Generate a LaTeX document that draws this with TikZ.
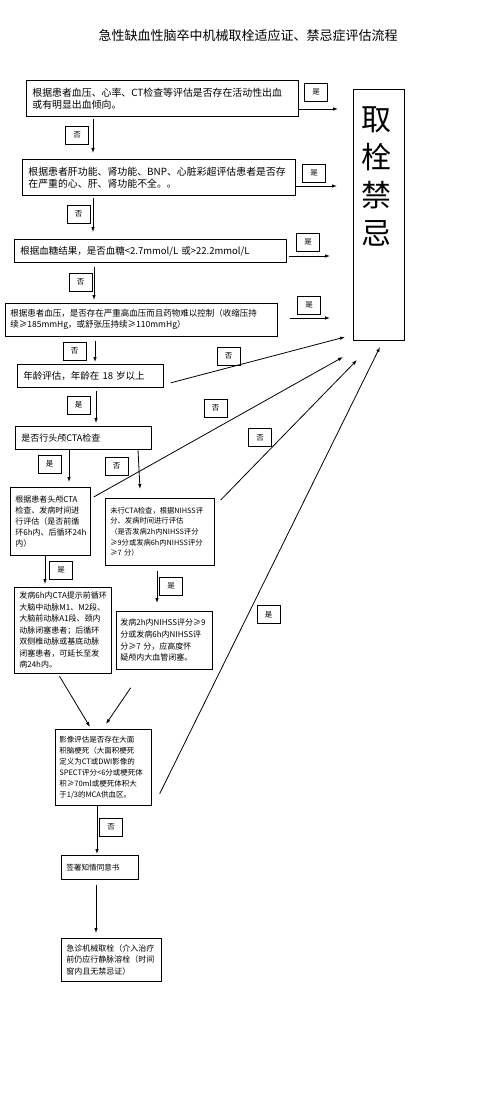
\documentclass[tikz,border=0pt]{standalone}
\usepackage{fontspec}
\setmainfont{Noto Sans CJK SC}
\usetikzlibrary{arrows.meta,calc}
\begin{document}
\begin{tikzpicture}[x=1pt,y=-1pt,
  box/.style={draw, line width=0.7pt, anchor=north west, inner xsep=6pt, inner ysep=2pt, align=left},
  lab/.style={draw, line width=0.6pt, minimum width=23pt, minimum height=18pt, inner sep=0pt, font=\fontsize{7.5}{8}\selectfont},
  arr/.style={-{Latex[length=5pt,width=3.5pt]}, line width=0.8pt},
  ln/.style={line width=0.8pt},
]
\useasboundingbox (0,0) rectangle (496,1110);

% title
\node[font=\fontsize{13}{15}\selectfont] (title) at (248,36) {急性缺血性脑卒中机械取栓适应证、禁忌症评估流程};

% big box
\node[draw, line width=0.7pt, anchor=north west, minimum width=51pt, minimum height=251pt, inner sep=0pt] (big) at (353,89) {};
\node[font=\fontsize{30}{38}\selectfont, align=center, inner sep=0pt] (bigtxt) at (376,176) {取\\栓\\禁\\忌};

% boxes
\node[box, minimum width=272pt, minimum height=36pt, text width=260pt, font=\fontsize{9.9}{12}\selectfont] (b1) at (26,80)
  {根据患者血压、心率、CT检查等评估是否存在活动性出血\\或有明显出血倾向。};
\node[box, minimum width=273pt, minimum height=36pt, text width=261pt, font=\fontsize{9.9}{12}\selectfont] (b2) at (22,159)
  {根据患者肝功能、肾功能、BNP、心脏彩超评估患者是否存\\在严重的心、肝、肾功能不全。。};
\node[box, minimum width=272pt, minimum height=23pt, text width=260pt, font=\fontsize{9.5}{12}\selectfont] (b3) at (14,239)
  {根据血糖结果，是否血糖<2.7mmol/L 或>22.2mmol/L};
\node[box, minimum width=272pt, minimum height=33pt, text width=262pt, inner xsep=5pt, font=\fontsize{8.5}{11}\selectfont] (b4) at (5,303)
  {根据患者血压，是否存在严重高血压而且药物难以控制（收缩压持\\续≥185mmHg，或舒张压持续≥110mmHg）};
\node[box, minimum width=146pt, minimum height=23pt, text width=134pt, font=\fontsize{9.5}{12}\selectfont] (b5) at (17,364)
  {年龄评估，年龄在 18 岁以上};
\node[box, minimum width=136pt, minimum height=23pt, text width=124pt, font=\fontsize{9}{12}\selectfont] (b6) at (15,426)
  {是否行头颅CTA检查};
\node[box, minimum width=80pt, minimum height=68pt, text width=70pt, inner xsep=5pt, font=\fontsize{8}{11}\selectfont] (b7) at (10,487)
  {根据患者头颅CTA\\检查、发病时间进\\行评估（是否前循\\环6h内、后循环24h\\内）};
\node[box, minimum width=109pt, minimum height=67pt, text width=99pt, inner xsep=5pt, font=\fontsize{7.3}{10.7}\selectfont] (b8) at (105,498)
  {未行CTA检查，根据NIHSS评\\分、发病时间进行评估\\（是否发病2h内NIHSS评分\\≥9分或发病6h内NIHSS评分\\≥7 分）};
\node[box, minimum width=97pt, minimum height=86pt, text width=87pt, inner xsep=5pt, font=\fontsize{8}{11.5}\selectfont] (b9) at (14,587)
  {发病6h内CTA提示前循环\\大脑中动脉M1、M2段、\\大脑前动脉A1段、颈内\\动脉闭塞患者；后循环\\双侧椎动脉或基底动脉\\闭塞患者，可延长至发\\病24h内。};
\node[box, minimum width=96pt, minimum height=58pt, text width=88pt, inner xsep=4pt, font=\fontsize{8}{11.7}\selectfont] (b10) at (116,611)
  {发病2h内NIHSS评分≥9\\分或发病6h内NIHSS评\\分≥7 分，应高度怀\\疑颅内大血管闭塞。};
\node[box, minimum width=96pt, minimum height=76pt, text width=88pt, inner xsep=4pt, font=\fontsize{7.5}{11}\selectfont] (b11) at (55,729)
  {影像评估是否存在大面\\积脑梗死（大面积梗死\\定义为CT或DWI影像的\\SPECT评分<6分或梗死体\\积≥70ml或梗死体积大\\于1/3的MCA供血区。};
\node[box, minimum width=77pt, minimum height=24pt, text width=67pt, inner xsep=5pt, font=\fontsize{7.6}{10}\selectfont] (b12) at (61,855)
  {签署知情同意书};
\node[box, minimum width=100pt, minimum height=43pt, text width=90pt, inner xsep=5pt, font=\fontsize{8}{11.3}\selectfont] (b13) at (61,938)
  {急诊机械取栓（介入治疗\\前仍应行静脉溶栓（时间\\窗内且无禁忌证）};

% coordinates
\coordinate (e1) at (338,109);
\coordinate (e2) at (337,186);
\coordinate (e3) at (330,256);
\coordinate (e4) at (330,318);
\coordinate (e5) at (345,337);
\coordinate (e7) at (343,357);
\coordinate (e8) at (357,360);
\coordinate (e11) at (380,347);
\coordinate (x93) at (93,0);
\coordinate (x94) at (94,0);
\coordinate (x95) at (95,0);
\coordinate (x96) at (96,0);
\coordinate (x97) at (97,0);
\coordinate (x69) at (69,0);
\coordinate (x45) at (45,0);
\coordinate (x157) at (157,0);
\coordinate (x138) at (138,0);
\coordinate (t8) at (140,489);
\coordinate (t11a) at (90,727);
\coordinate (t11b) at (106,724);

% yes arrows to contraindication
\draw[arr] (b1.east |- e1) -- (e1);
\draw[arr] (b2.east |- e2) -- (e2);
\draw[arr, shorten <=2pt] (b3.east |- e3) -- (e3);
\draw[arr, shorten <=12pt] (b4.east |- e4) -- (e4);

% vertical flow
\draw[arr, shorten <=2pt, shorten >=6pt] (b1.south -| x93) -- (b2.north -| x93);
\draw[arr, shorten <=2pt, shorten >=7pt] (b2.south -| x93) -- (b3.north -| x93);
\draw[arr, shorten <=4pt, shorten >=3pt] (b3.south -| x94) -- (b4.north -| x94);
\draw[arr, shorten <=4pt, shorten >=2pt] (b4.south -| x95) -- (b5.north -| x95);
\draw[arr, shorten <=3pt, shorten >=3pt] (b5.south -| x96) -- (b6.north -| x96);
\draw[arr, shorten >=5pt] (b6.south -| x69) -- (b7.north -| x69);
\draw[arr] (b6.south -| x138) -- (t8);
\draw[arr, shorten >=3pt] (b7.south -| x45) -- (b9.north -| x45);
\draw[arr, shorten <=5pt, shorten >=8pt] (b8.south -| x157) -- (b10.north -| x157);
\draw[arr, shorten <=3pt] ($(b9.south west)+(44,0)$) -- (t11a);
\draw[arr, shorten <=22pt] ($(b10.south west)+(27,0)$) -- (t11b);
\draw[arr, shorten >=1pt] (b11.south -| x97) -- (b12.north -| x97);
\draw[arr, shorten <=5pt, shorten >=5pt] (b12.south -| x96) -- (b13.north -| x96);

% slanted to contraindication
\draw[arr] ($(b5.east)+(7,7)$) -- (e5);
\draw[arr] ($(b7.north east)+(3,10)$) -- (e7);
\draw[arr] ($(b8.north east)+(6,2)$) -- (e8);
\draw[arr] ($(b11.south east)+(8,-12)$) -- (e11);

% labels
\node[lab] (l1) at (316,92) {是};
\node[lab] (l2) at (77,135) {否};
\node[lab] (l3) at (314,173) {是};
\node[lab] (l4) at (78.5,214) {否};
\node[lab] (l5) at (308,242) {是};
\node[lab] (l6) at (80.5,282) {否};
\node[lab] (l7) at (309,305) {是};
\node[lab] (l8) at (74.5,351) {否};
\node[lab] (l9) at (228.5,356) {否};
\node[lab] (l10) at (78.5,405) {是};
\node[lab] (l11) at (215.5,408) {否};
\node[lab] (l12) at (260,437.5) {否};
\node[lab] (l13) at (49.5,464) {是};
\node[lab] (l14) at (116.5,466) {否};
\node[lab] (l15) at (61,570) {是};
\node[lab] (l16) at (171,586) {是};
\node[lab] (l17) at (268.5,614.5) {是};
\node[lab] (l18) at (111,827) {否};
\end{tikzpicture}
\end{document}
